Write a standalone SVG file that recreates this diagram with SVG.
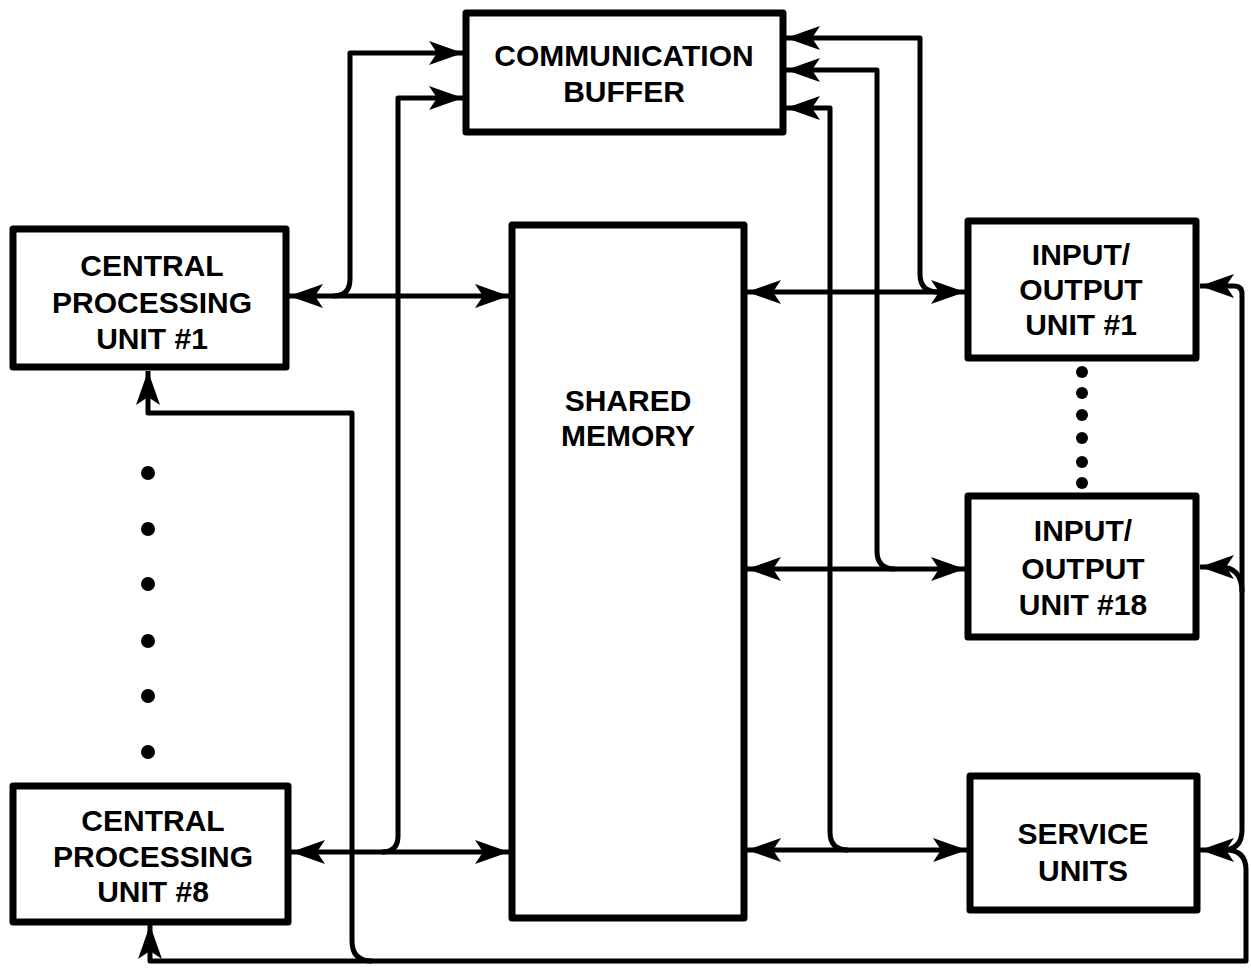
<svg xmlns="http://www.w3.org/2000/svg" width="1251" height="968" viewBox="0 0 1251 968">
<style>
.box{fill:#fff;stroke:#000;stroke-width:7;stroke-linejoin:round}
.lbl{font-family:"Liberation Sans",Arial,sans-serif;font-weight:bold;font-size:30px;text-anchor:middle;fill:#000}
.c{fill:none;stroke:#000;stroke-width:5;stroke-linejoin:round}
.dot{fill:#000}
</style>
<defs>
<marker id="ah" markerUnits="userSpaceOnUse" markerWidth="38" markerHeight="28" refX="35" refY="14" orient="auto-start-reverse" viewBox="0 0 38 28">
<path d="M1,2 L35,14 L1,26 L9,14 z" fill="#000"/>
</marker>
</defs>
<rect width="1251" height="968" fill="#fff"/>
<g id="connectors">
<path class="c" d="M289,296 H509" marker-start="url(#ah)" marker-end="url(#ah)"/>
<path class="c" d="M291,852 H509" marker-start="url(#ah)" marker-end="url(#ah)"/>
<path class="c" d="M747,292 H965" marker-start="url(#ah)" marker-end="url(#ah)"/>
<path class="c" d="M747,569 H965" marker-start="url(#ah)" marker-end="url(#ah)"/>
<path class="c" d="M747,850 H967" marker-start="url(#ah)" marker-end="url(#ah)"/>
<path class="c" d="M333,296 Q350,296 350,279 V53 H463" marker-end="url(#ah)"/>
<path class="c" d="M382,852 Q398,852 398,836 V98 H463" marker-end="url(#ah)"/>
<path class="c" d="M938,292 Q920,292 920,274 V38 H786" marker-end="url(#ah)"/>
<path class="c" d="M895,569 Q877,569 877,551 V70 H786" marker-end="url(#ah)"/>
<path class="c" d="M848,850 Q830,850 830,832 V108 H786" marker-end="url(#ah)"/>
<path class="c" d="M150,925 V961 H1246 V870 Q1246,850 1226,850 H1200" marker-start="url(#ah)" marker-end="url(#ah)"/>
<path class="c" d="M372,961 Q352,961 352,941 V413 H148 V371" marker-end="url(#ah)"/>
<path class="c" d="M1200,286 H1234 Q1242,286 1242,294 V830 Q1242,850 1222,850" marker-start="url(#ah)"/>
<path class="c" d="M1242,592 Q1242,567 1220,567 H1200" marker-end="url(#ah)"/>
</g>
<g id="comm-buffer">
<rect class="box" x="466" y="13" width="317" height="119"/>
<text class="lbl" x="624" y="66">COMMUNICATION</text>
<text class="lbl" x="624" y="102">BUFFER</text>
</g>
<g id="cpu1">
<rect class="box" x="13" y="229" width="273" height="138"/>
<text class="lbl" x="152" y="276">CENTRAL</text>
<text class="lbl" x="152" y="313">PROCESSING</text>
<text class="lbl" x="152" y="349">UNIT #1</text>
</g>
<g id="cpu8">
<rect class="box" x="13" y="786" width="275" height="136"/>
<text class="lbl" x="153" y="831">CENTRAL</text>
<text class="lbl" x="153" y="867">PROCESSING</text>
<text class="lbl" x="153" y="902">UNIT #8</text>
</g>
<g id="shared-memory">
<rect class="box" x="512" y="225" width="232" height="693"/>
<text class="lbl" x="628" y="411">SHARED</text>
<text class="lbl" x="628" y="446">MEMORY</text>
</g>
<g id="io1">
<rect class="box" x="968" y="221" width="228" height="137"/>
<text class="lbl" x="1081" y="265">INPUT/</text>
<text class="lbl" x="1081" y="300">OUTPUT</text>
<text class="lbl" x="1081" y="335">UNIT #1</text>
</g>
<g id="io18">
<rect class="box" x="968" y="496" width="228" height="141"/>
<text class="lbl" x="1083" y="541">INPUT/</text>
<text class="lbl" x="1083" y="579">OUTPUT</text>
<text class="lbl" x="1083" y="615">UNIT #18</text>
</g>
<g id="service-units">
<rect class="box" x="970" y="776" width="227" height="134"/>
<text class="lbl" x="1083" y="844">SERVICE</text>
<text class="lbl" x="1083" y="881">UNITS</text>
</g>
<g id="cpu-ellipsis">
<circle class="dot" cx="148" cy="473" r="7"/>
<circle class="dot" cx="148" cy="529" r="7"/>
<circle class="dot" cx="148" cy="584" r="7"/>
<circle class="dot" cx="148" cy="641" r="7"/>
<circle class="dot" cx="148" cy="696" r="7"/>
<circle class="dot" cx="148" cy="752" r="7"/>
</g>
<g id="io-ellipsis">
<circle class="dot" cx="1082" cy="372" r="6"/>
<circle class="dot" cx="1082" cy="393" r="6"/>
<circle class="dot" cx="1082" cy="415" r="6"/>
<circle class="dot" cx="1082" cy="438" r="6"/>
<circle class="dot" cx="1082" cy="462" r="6"/>
<circle class="dot" cx="1082" cy="483" r="6"/>
</g>
</svg>
